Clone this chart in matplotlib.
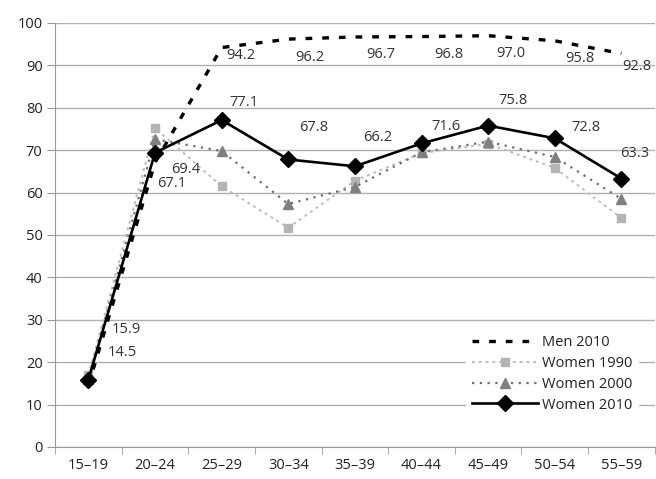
import matplotlib.pyplot as plt

plt.rcParams['font.family'] = ['Open Sans', 'DejaVu Sans']

ages = ['15–19', '20–24', '25–29', '30–34', '35–39', '40–44', '45–49', '50–54', '55–59']
men_2010 = [14.5, 67.1, 94.2, 96.2, 96.7, 96.8, 97.0, 95.8, 92.8]
women_1990 = [17.0, 75.2, 61.5, 51.7, 62.8, 69.3, 71.5, 65.8, 54.0]
women_2000 = [16.0, 72.6, 69.8, 57.3, 61.3, 69.5, 72.0, 68.4, 58.5]
women_2010 = [15.9, 69.4, 77.1, 67.8, 66.2, 71.6, 75.8, 72.8, 63.3]

# label offsets in pixels (dx, dy)
men_off = [(34, 33), (17, -21), (19, -8), (22, -18), (26, -18), (27, -18), (23, -18), (25, -18), (15, -13)]
w10_off = [(38, 50), (31, -17), (22, 18), (25, 32), (23, 29), (24, 17), (25, 25), (31, 11), (13, 25)]

fig = plt.figure(figsize=(6.56, 4.79), dpi=100)
ax = fig.add_axes([0.084, 0.067, 0.914, 0.885])

x = range(len(ages))
ax.plot(x, women_1990, color='#bdbdbd', lw=1.4, ls=(0, (1.5, 2)), marker='s', ms=6,
        mfc='#b4b4b4', mec='#b4b4b4', label='Women 1990', zorder=3)
ax.plot(x, women_2000, color='#6e6e6e', lw=1.6, ls=(0, (1, 2.5)), marker='^', ms=7,
        mfc='#808080', mec='#808080', label='Women 2000', zorder=4)
ax.plot(x, men_2010, color='black', lw=2.4, ls=(0, (2, 3)), label='Men 2010', zorder=5)
ax.plot(x, women_2010, color='black', lw=1.9, marker='D', ms=8.5, label='Women 2010', zorder=6)

for i, v in enumerate(men_2010):
    ax.annotate(f'{v:.1f}', (i, v), xytext=men_off[i], textcoords='offset pixels',
                ha='center', va='center', fontsize=10.5, color='#333333', zorder=7)
for i, v in enumerate(women_2010):
    ax.annotate(f'{v:.1f}', (i, v), xytext=w10_off[i], textcoords='offset pixels',
                ha='center', va='center', fontsize=10.5, color='#333333', zorder=7)

ax.set_xlim(-0.5, len(ages) - 0.5)
ax.set_ylim(0, 100)
ax.set_yticks(range(0, 101, 10))
ax.set_xticks(x)
ax.set_xticklabels(ages)
ax.set_xticks([i - 0.5 for i in range(len(ages) + 1)], minor=True)
ax.tick_params(axis='x', which='major', length=0, labelsize=10.5, labelcolor='#222222', pad=8)
ax.tick_params(axis='x', which='minor', length=5, color='#999999')
ax.tick_params(axis='y', length=6, color='#999999', labelsize=10.5, labelcolor='#222222', pad=3)
ax.grid(axis='y', color='#b0b0b0', lw=1)
ax.set_axisbelow(True)
for s in ['top', 'right']:
    ax.spines[s].set_visible(False)
for s in ['left', 'bottom']:
    ax.spines[s].set_color('#999999')

h, l = ax.get_legend_handles_labels()
order = [2, 0, 1, 3]
leg = ax.legend([h[i] for i in order], [l[i] for i in order], loc='lower right',
                bbox_to_anchor=(0.985, 0.05), frameon=True, fontsize=10.5,
                handlelength=4.5, labelspacing=0.4, borderpad=0.4, handletextpad=0.3)
leg.get_frame().set_edgecolor('white')
leg.get_frame().set_alpha(1)
for t in leg.get_texts():
    t.set_color('#222222')

fig.savefig('out.png', dpi=100)
